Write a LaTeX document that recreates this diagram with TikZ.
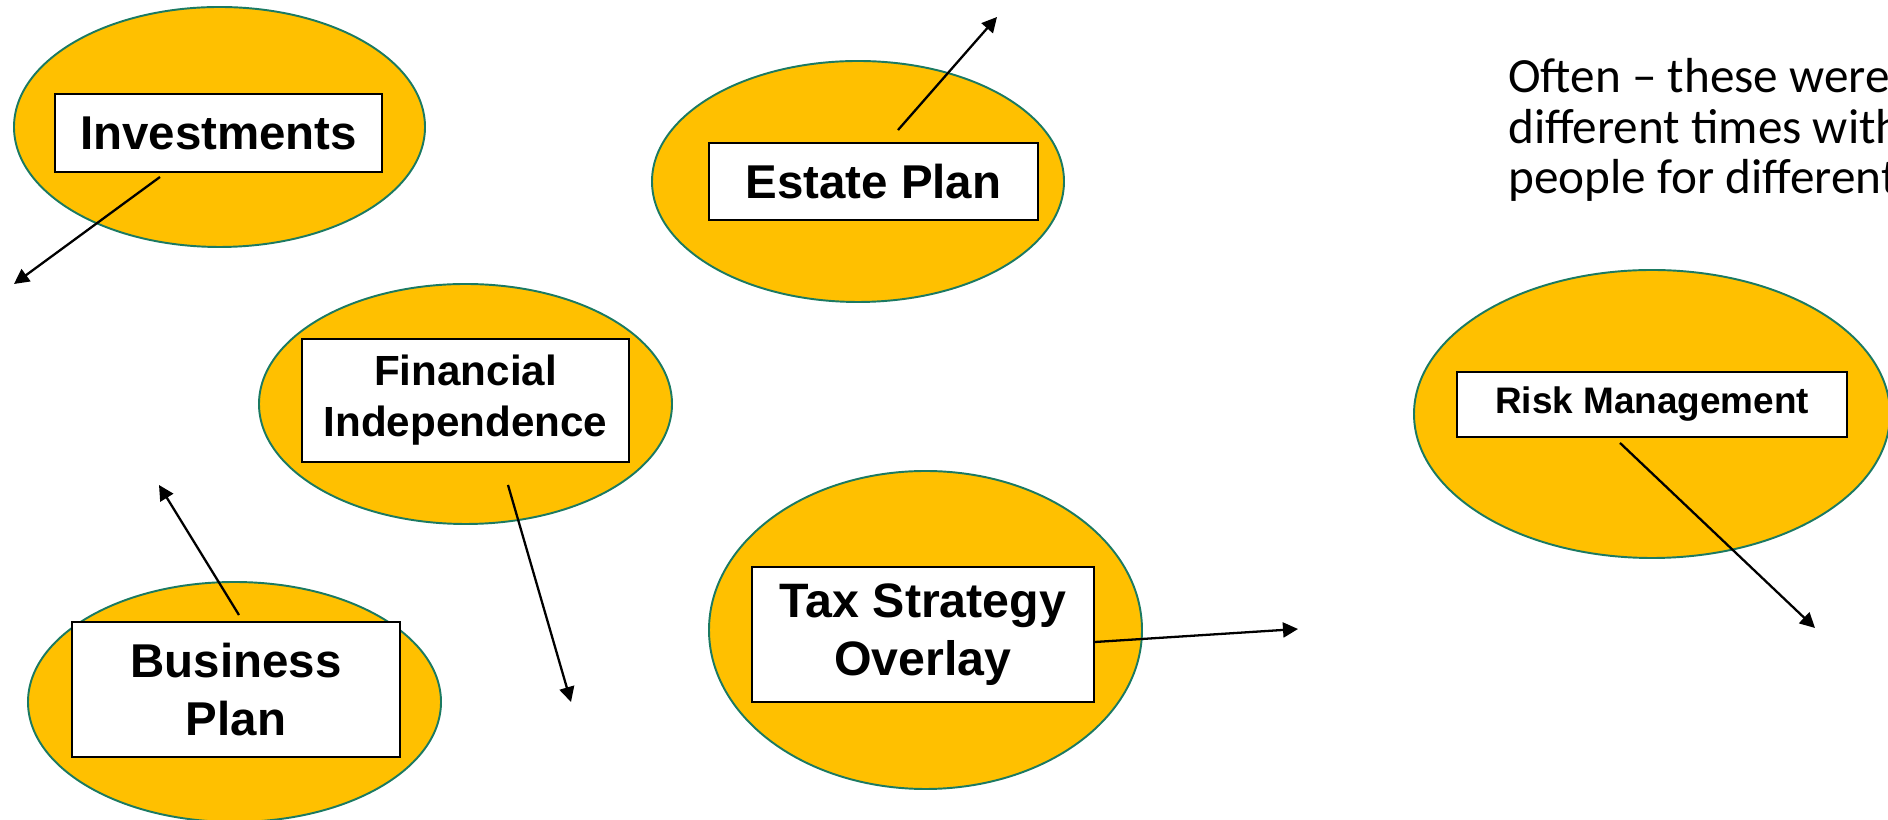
\documentclass[tikz,border=0pt]{standalone}
\usepackage{fontspec}
\setmainfont{Liberation Sans}
\newfontfamily\notefont{Carlito}
\usetikzlibrary{arrows.meta}
\definecolor{gold}{HTML}{FFC000}
\definecolor{rim}{HTML}{1B7A62}
\tikzset{
  blob/.style={fill=gold, draw=rim, line width=1.1pt},
  planbox/.style={draw, fill=white, line width=1.1pt, inner sep=0pt, align=center,
    font=\bfseries\fontsize{27}{33}\selectfont},
  pointer/.style={-{Triangle[length=0.3cm,width=0.3cm]}, line width=1.3pt}
}
\begin{document}
\begin{tikzpicture}
\useasboundingbox (0,0) rectangle (37.76,16.4);
\clip (0,0) rectangle (37.76,16.4);

% the ovals
\filldraw[blob] (4.39,13.86) ellipse (4.11 and 2.40);
\filldraw[blob] (17.16,12.77) ellipse (4.12 and 2.41);
\filldraw[blob] (9.31,8.32) ellipse (4.13 and 2.40);
\filldraw[blob] (4.69,2.36) ellipse (4.13 and 2.40);
\filldraw[blob] (18.51,3.80) ellipse (4.33 and 3.18);
\filldraw[blob] (33.04,8.12) ellipse (4.76 and 2.88);

% the boxes
\node[planbox, minimum width=6.54cm, minimum height=1.56cm] (inv) at (4.37,13.74) {Investments};
\node[planbox, minimum width=6.58cm, minimum height=1.54cm] (estate) at (17.47,12.77) {Estate Plan};
\node[planbox, minimum width=6.54cm, minimum height=2.46cm,
  font=\bfseries\fontsize{24}{29}\selectfont] (fin) at (9.31,8.39) {Financial\\Independence};
\node[planbox, minimum width=6.56cm, minimum height=2.70cm] (bus) at (4.72,2.61) {Business\\Plan};
\node[planbox, minimum width=6.84cm, minimum height=2.70cm,
  font=\bfseries\fontsize{27.5}{33}\selectfont] (tax) at (18.46,3.71) {Tax Strategy\\Overlay};
\node[planbox, minimum width=7.80cm, minimum height=1.30cm,
  font=\bfseries\fontsize{21}{25}\selectfont] (risk) at (33.04,8.31) {Risk Management};

% loose ends
\coordinate (invEnd) at (0.28,10.72);
\coordinate (estateEnd) at (19.94,16.06);
\coordinate (finEnd) at (11.42,2.36);
\coordinate (busEnd) at (3.18,6.70);
\coordinate (taxEnd) at (25.96,3.82);
\coordinate (riskEnd) at (36.30,3.84);

\draw[pointer] ([xshift=-1.17cm,yshift=-0.08cm]inv.south) -- (invEnd);
\draw[pointer] ([xshift=0.49cm,yshift=0.24cm]estate.north) -- (estateEnd);
\draw[pointer] ([xshift=0.85cm,yshift=-0.44cm]fin.south) -- (finEnd);
\draw[pointer] ([xshift=0.06cm,yshift=0.12cm]bus.north) -- (busEnd);
\draw[pointer] ([yshift=-0.15cm]tax.east) -- (taxEnd);
\draw[pointer] ([xshift=-0.64cm,yshift=-0.10cm]risk.south) -- (riskEnd);

%-------------------------------------
\node[anchor=base west, align=left, inner sep=0pt,
  font=\notefont\fontsize{28}{29}\selectfont] (note) at (30.16,12.52)
  {Often – these were\\different times with\\people for different};
\end{tikzpicture}
\end{document}
